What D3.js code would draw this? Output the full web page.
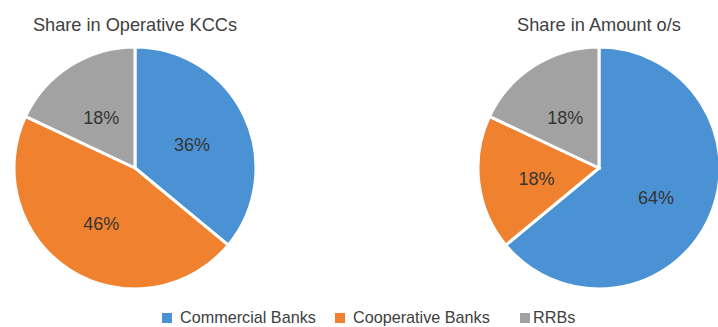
<!DOCTYPE html>
<html>
<head>
<meta charset="utf-8">
<script src="https://cdn.jsdelivr.net/npm/d3@7"></script>
<style>
  html, body { margin: 0; padding: 0; background: #fff; }
  svg { display: block; font-family: "Liberation Sans", Arial, sans-serif; }
</style>
</head>
<body>
<svg id="chart" width="718" height="327"></svg>
<script>
// Bank groups and their shares (%)
const categories = ["Commercial Banks", "Cooperative Banks", "RRBs"];
const kccShare = [36, 46, 18];      // Share in Operative KCCs
const amountShare = [64, 18, 18];   // Share in Amount o/s
const chartTitles = ["Share in Operative KCCs", "Share in Amount o/s"];

const colors = d3.scaleOrdinal()
  .domain(categories)
  .range(["#4b92d4", "#f0812f", "#a2a2a2"]);

const svg = d3.select("#chart");
const radius = 121;
const textColor = "#404040";

const pie = d3.pie().sort(null).value(d => d.value);
const arc = d3.arc().innerRadius(0).outerRadius(radius);
const labelArc = d3.arc().innerRadius(radius * 0.52).outerRadius(radius * 0.52);

const panels = [
  { title: chartTitles[0], values: kccShare, cx: 135, cy: 168 },
  { title: chartTitles[1], values: amountShare, cx: 599, cy: 168 }
];

panels.forEach(p => {
  const data = categories.map((c, i) => ({ name: c, value: p.values[i] }));
  const g = svg.append("g").attr("transform", `translate(${p.cx},${p.cy})`);

  g.selectAll("path.slice")
    .data(pie(data))
    .join("path")
    .attr("class", "slice")
    .attr("d", arc)
    .attr("fill", d => colors(d.data.name))
    .attr("stroke", "#fff")
    .attr("stroke-width", 3)
    .attr("stroke-linejoin", "miter");

  g.selectAll("text.val")
    .data(pie(data))
    .join("text")
    .attr("class", "val")
    .attr("transform", d => {
      const [x, y] = labelArc.centroid(d);
      return `translate(${x},${y + 3})`;
    })
    .attr("text-anchor", "middle")
    .attr("dy", "0.35em")
    .attr("font-size", 18)
    .attr("fill", "#353535")
    .text(d => d.data.value + "%");

  svg.append("text")
    .attr("x", p.cx)
    .attr("y", 31)
    .attr("text-anchor", "middle")
    .attr("font-size", 18.2)
    .attr("fill", textColor)
    .text(p.title);
});

// Legend along the bottom
const legendX = [162, 335, 520];
const legend = svg.append("g");
categories.forEach((c, i) => {
  const item = legend.append("g").attr("transform", `translate(${legendX[i]},313)`);
  item.append("rect")
    .attr("width", 10).attr("height", 10)
    .attr("fill", colors(c));
  item.append("text")
    .attr("x", i === 2 ? 13 : 18)
    .attr("y", 10)
    .attr("font-size", 16.2)
    .attr("fill", textColor)
    .text(c);
});
</script>
</body>
</html>
